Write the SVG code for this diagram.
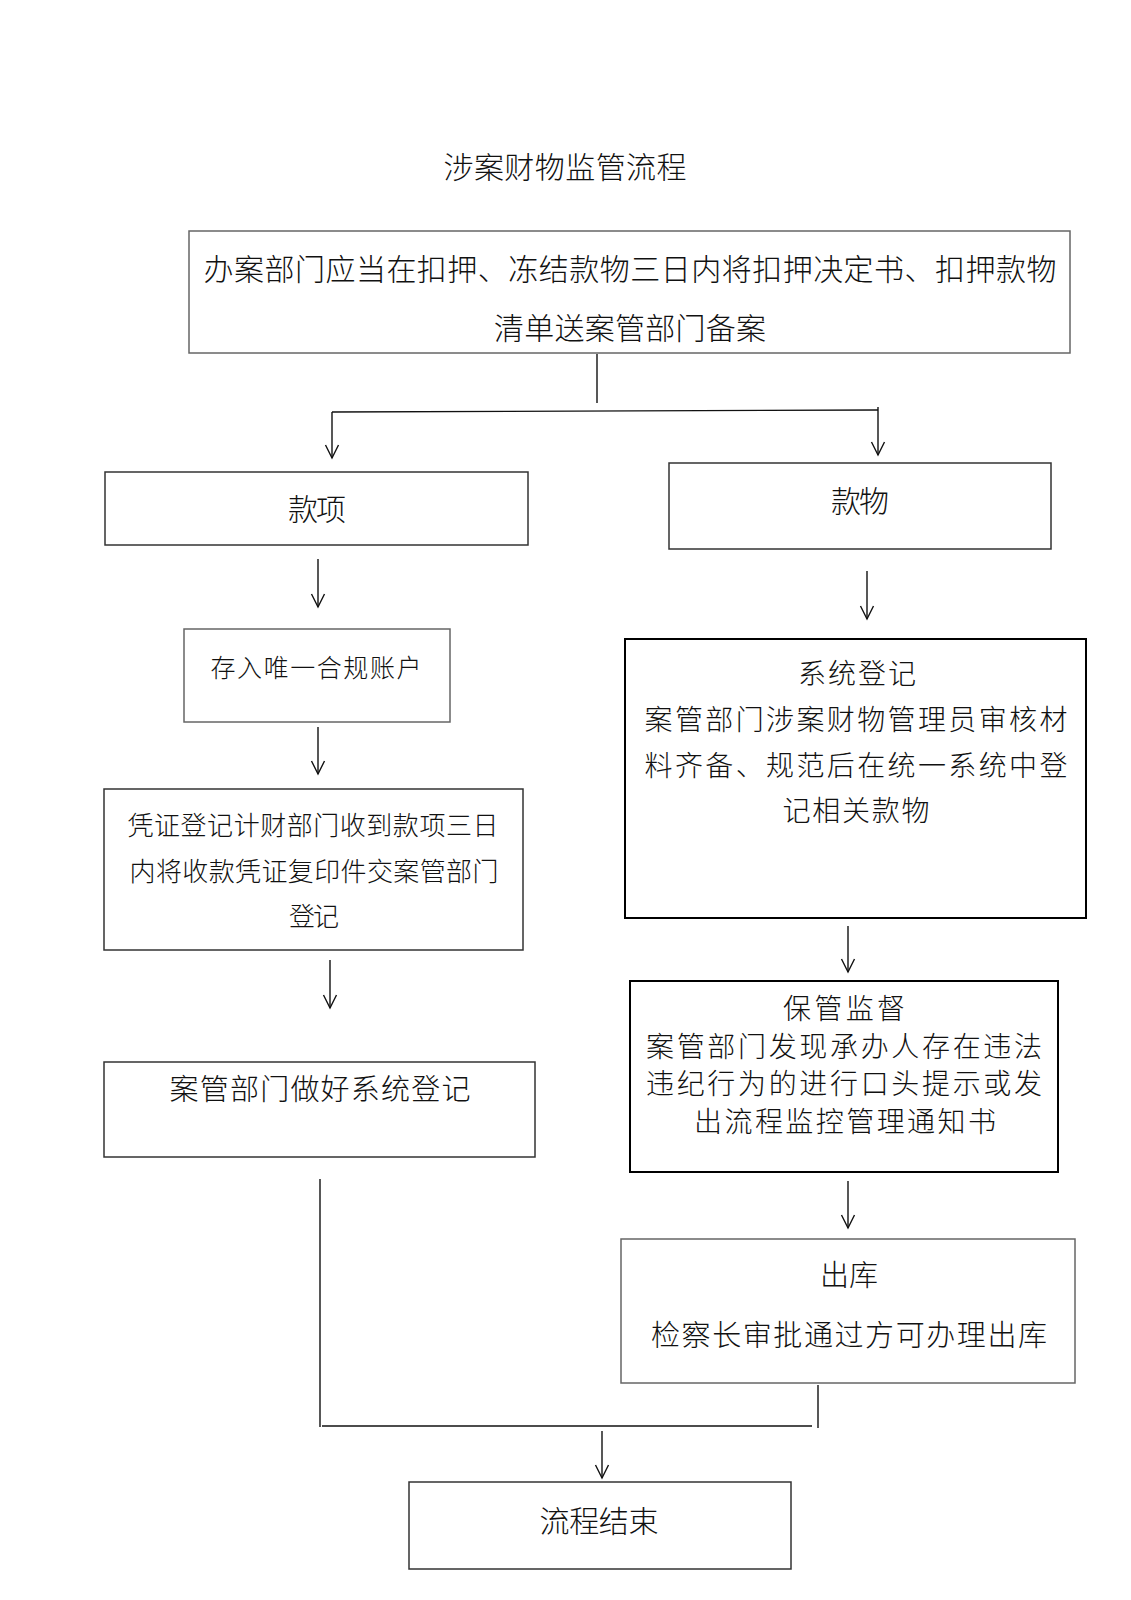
<svg xmlns="http://www.w3.org/2000/svg" width="1131" height="1600" viewBox="0 0 1131 1600">
<style>
text{font-family:"Noto Sans CJK SC","Noto Sans CJK TC",sans-serif;font-weight:300;fill:#111;text-anchor:middle;dominant-baseline:central}
.box{fill:#fff;stroke:#333;stroke-width:1.5}
.bold{stroke:#000;stroke-width:2}
.gray{stroke:#666}
.conn{fill:none;stroke:#111;stroke-width:1.4}
</style>
<defs>
<marker id="arr" viewBox="-15 -8 17 16" markerWidth="17" markerHeight="16" refX="0" refY="0" orient="auto" markerUnits="userSpaceOnUse">
<path d="M-13,-6.5 L0,0 L-13,6.5" fill="none" stroke="#111" stroke-width="1.4"/>
</marker>
</defs>
<rect width="1131" height="1600" fill="#fff"/>
<text id="title" x="565" y="165" font-size="30" font-weight="400" textLength="243">涉案财物监管流程</text>

<g id="n-start">
<rect class="box gray" x="189" y="231" width="881" height="122"/>
<text x="630" y="267" font-size="30" textLength="853">办案部门应当在扣押、冻结款物三日内将扣押决定书、扣押款物</text>
<text x="630" y="326" font-size="30" textLength="272">清单送案管部门备案</text>
</g>
<g id="n-kuanxiang">
<rect class="box" x="105" y="472" width="423" height="73"/>
<text x="317" y="507" font-size="30" textLength="58">款项</text>
</g>
<g id="n-kuanwu">
<rect class="box" x="669" y="463" width="382" height="86"/>
<text x="860" y="499" font-size="30" textLength="58">款物</text>
</g>
<g id="n-cunru">
<rect class="box gray" x="184" y="629" width="266" height="93"/>
<text x="316" y="666" font-size="25" textLength="211">存入唯一合规账户</text>
</g>
<g id="n-pingzheng">
<rect class="box" x="104" y="789" width="419" height="161"/>
<text x="313" y="823" font-size="26" textLength="371">凭证登记计财部门收到款项三日</text>
<text x="314" y="869" font-size="26" textLength="369">内将收款凭证复印件交案管部门</text>
<text x="314" y="914" font-size="26" textLength="50">登记</text>
</g>
<g id="n-xitong">
<rect class="box bold" x="625" y="639" width="461" height="279"/>
<text x="857" y="672" font-size="28" textLength="118">系统登记</text>
<text x="856" y="718" font-size="28" textLength="423">案管部门涉案财物管理员审核材</text>
<text x="856" y="764" font-size="28" textLength="423">料齐备、规范后在统一系统中登</text>
<text x="856" y="809" font-size="28" textLength="147">记相关款物</text>
</g>
<g id="n-anguan">
<rect class="box" x="104" y="1062" width="431" height="95"/>
<text x="320" y="1087" font-size="29" textLength="301">案管部门做好系统登记</text>
</g>
<g id="n-baoguan">
<rect class="box bold" x="630" y="981" width="428" height="191"/>
<text x="844" y="1007" font-size="28" textLength="122">保管监督</text>
<text x="844" y="1045" font-size="28" textLength="396">案管部门发现承办人存在违法</text>
<text x="844" y="1082" font-size="28" textLength="396">违纪行为的进行口头提示或发</text>
<text x="845" y="1120" font-size="28" textLength="302">出流程监控管理通知书</text>
</g>
<g id="n-chuku">
<rect class="box gray" x="621" y="1239" width="454" height="144"/>
<text x="849" y="1273" font-size="29" textLength="58">出库</text>
<text x="849" y="1333" font-size="29" textLength="396">检察长审批通过方可办理出库</text>
</g>
<g id="n-end">
<rect class="box" x="409" y="1482" width="382" height="87"/>
<text x="599" y="1519" font-size="30" textLength="119">流程结束</text>
</g>

<g id="connectors">
<path class="conn" d="M597,354 L597,403"/>
<path class="conn" d="M332,412 L878,410"/>
<path class="conn" d="M332,412 L332,458" marker-end="url(#arr)"/>
<path class="conn" d="M878,407 L878,455" marker-end="url(#arr)"/>
<path class="conn" d="M318,559 L318,607" marker-end="url(#arr)"/>
<path class="conn" d="M867,571 L867,619" marker-end="url(#arr)"/>
<path class="conn" d="M318,727 L318,774" marker-end="url(#arr)"/>
<path class="conn" d="M848,926 L848,972" marker-end="url(#arr)"/>
<path class="conn" d="M330,960 L330,1008" marker-end="url(#arr)"/>
<path class="conn" d="M848,1181 L848,1228" marker-end="url(#arr)"/>
<path class="conn" d="M320,1179 L320,1427"/>
<path class="conn" d="M322,1426 L812,1426"/>
<path class="conn" d="M818,1385 L818,1428"/>
<path class="conn" d="M602,1431 L602,1478" marker-end="url(#arr)"/>
</g>
</svg>
